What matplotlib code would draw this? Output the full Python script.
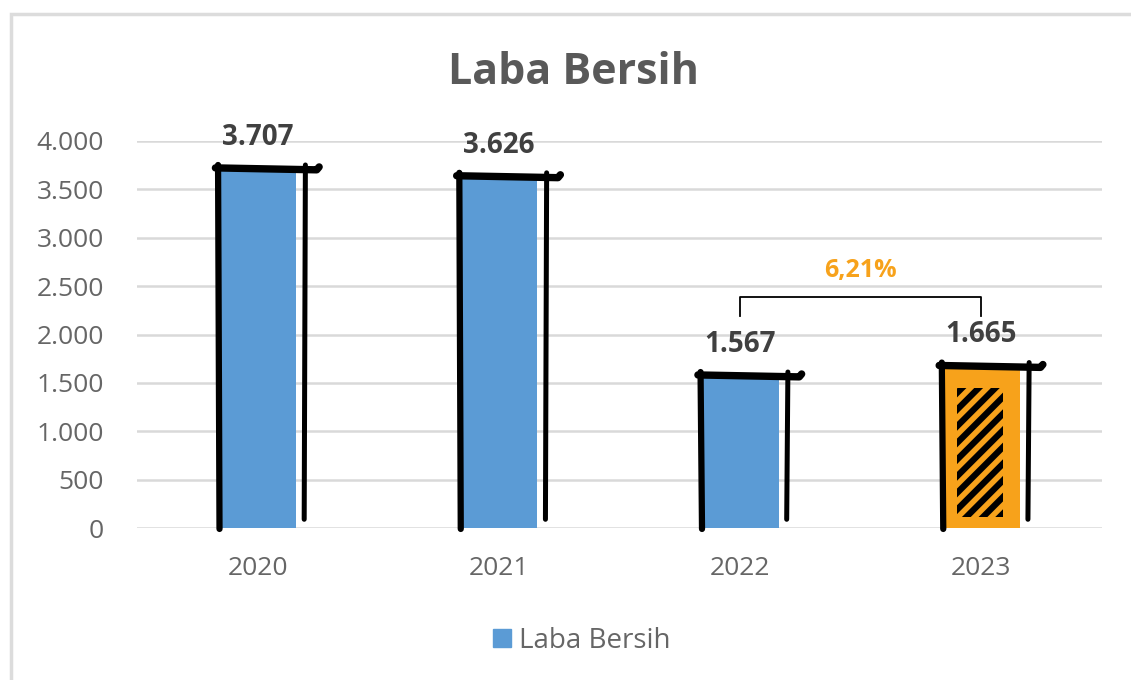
import matplotlib
matplotlib.use("Agg")
import matplotlib.pyplot as plt
from matplotlib.patches import Rectangle
from matplotlib.lines import Line2D

# ---- data ----
years = ["2020", "2021", "2022", "2023"]
laba_bersih = [3707, 3626, 1567, 1665]
value_labels = ["3.707", "3.626", "1.567", "1.665"]
y_ticks = [0, 500, 1000, 1500, 2000, 2500, 3000, 3500, 4000]
y_tick_labels = ["0", "500", "1.000", "1.500", "2.000", "2.500", "3.000", "3.500", "4.000"]
growth_label = "6,21%"
title = "Laba Bersih"
legend_label = "Laba Bersih"

BLUE = "#5B9BD5"
ORANGE = "#F7A21B"
DARK = "#404040"
GRAY = "#666666"
GRID = "#D9D9D9"

plt.rcParams["font.family"] = ["Open Sans", "DejaVu Sans"]
plt.rcParams["hatch.linewidth"] = 4.5
plt.rcParams["hatch.color"] = "black"

fig = plt.figure(figsize=(11.31, 6.8), dpi=100)
fig.patch.set_facecolor("white")

# card border
card = Rectangle((0.010, -0.02), 1.02, 1 - 14 / 680 + 0.02, transform=fig.transFigure,
                 facecolor="none", edgecolor="#DCDCDC", linewidth=2.5)
fig.patches.append(card)

ax = fig.add_axes([137 / 1131, 1 - 528 / 680, (1102 - 137) / 1131, (528 - 141) / 680])
x = list(range(len(years)))
bw = 0.32
colors = [BLUE, BLUE, BLUE, ORANGE]
ax.bar(x, laba_bersih, width=bw, color=colors, zorder=2, label=legend_label)

ax.set_xlim(-0.5, len(years) - 0.5)
ax.set_ylim(0, 4000)
ax.set_yticks(y_ticks)
ax.set_yticklabels(y_tick_labels)
ax.set_xticks(x)
ax.set_xticklabels(years)
ax.tick_params(axis="both", length=0, labelsize=19, labelcolor=GRAY)
ax.tick_params(axis="x", pad=20)
ax.tick_params(axis="y", pad=24)
ax.grid(axis="y", color=GRID, linewidth=1.8, zorder=0)
ax.set_axisbelow(True)
for s in ax.spines.values():
    s.set_visible(False)

# hand-drawn outlines
lw = 4.5
for xi, v in zip(x, laba_bersih):
    left = xi - bw / 2
    right_line = xi + bw / 2 + 0.035
    ax.plot([left - 0.015, right_line + 0.05, right_line + 0.06],
            [v + 15, v - 5, v + 25], color="black", lw=lw + 0.8,
            solid_capstyle="round", solid_joinstyle="round", zorder=4, clip_on=False)
    ax.plot([left - 0.004, left + 0.002], [v + 45, -10], color="black", lw=lw,
            solid_capstyle="round", zorder=4, clip_on=False)
    ax.plot([right_line + 0.003, right_line - 0.002], [v + 45, 90], color="black", lw=lw * 0.8,
            solid_capstyle="round", zorder=4, clip_on=False)
    ax.annotate(value_labels[xi], (xi, v), xytext=(0, 23), textcoords="offset points",
                ha="center", va="center", fontsize=20, fontweight="bold", color=DARK)

# scribble hatch on the last bar
xi, v = x[-1], laba_bersih[-1]
ax.bar([xi - 0.005], [v * 0.80], bottom=[v * 0.07], width=bw * 0.6, facecolor="none",
       edgecolor="black", linewidth=0, hatch="//", zorder=3)

# growth bracket between last two bars
bracket_y = 2390
drop = 200
ax.plot([x[2], x[2], x[3], x[3]],
        [bracket_y - drop, bracket_y, bracket_y, bracket_y - drop],
        color="black", lw=1.3, zorder=3)
ax.text((x[2] + x[3]) / 2, bracket_y + 270, growth_label, ha="center", va="center",
        fontsize=18, fontweight="bold", color=ORANGE)

# title
fig.text(0.507, 1 - 72 / 680, title, ha="center", va="center", fontsize=31,
         fontweight="bold", color="#595959")

# legend
handle = Line2D([], [], marker="s", linestyle="none", markersize=13,
                markerfacecolor=BLUE, markeredgecolor=BLUE)
fig.legend([handle], [legend_label], loc="center", bbox_to_anchor=(0.512, 1 - 641 / 680),
           frameon=False, fontsize=20, handletextpad=0.1, handlelength=1.0, labelcolor=GRAY)

fig.savefig("out.png", dpi=100, facecolor="white")
